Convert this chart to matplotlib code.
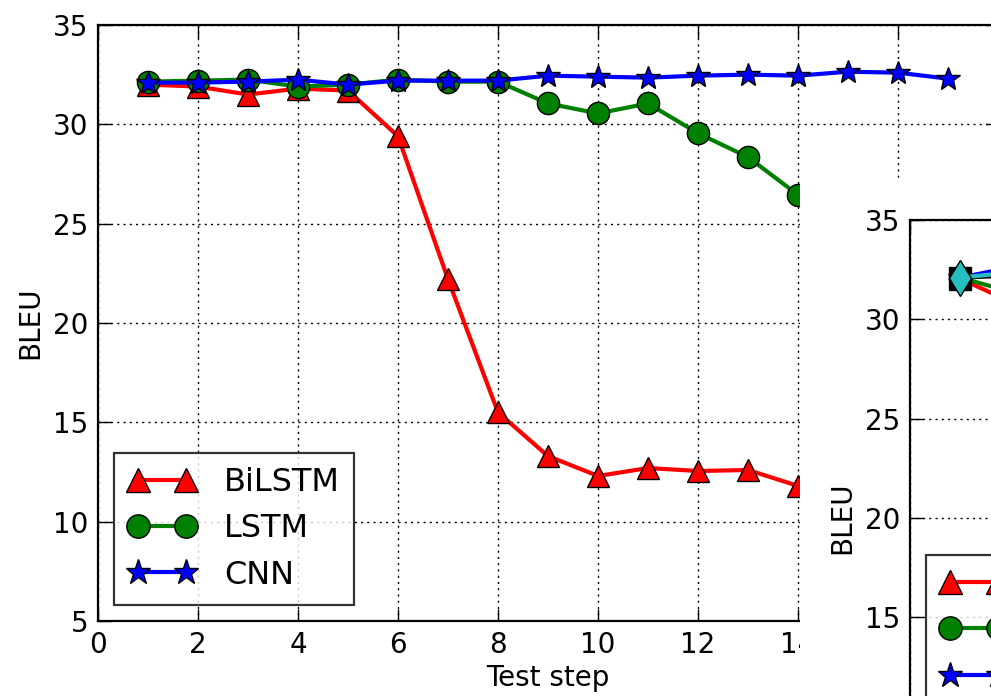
import numpy as np
import matplotlib
matplotlib.use("Agg")
from matplotlib import pyplot as plt
from matplotlib.patches import Rectangle

# main panel data
steps = list(range(1, 15))
bilstm = [32.0, 31.9, 31.5, 31.8, 31.7, 29.4, 22.2, 15.5, 13.3, 12.3, 12.7, 12.55, 12.6, 11.8]
lstm = [32.15, 32.2, 32.25, 31.9, 32.0, 32.25, 32.15, 32.15, 31.05, 30.55, 31.05, 29.55, 28.35, 26.45]
cnn_steps = list(range(1, 18))
cnn = [32.1, 32.1, 32.15, 32.25, 32.0, 32.2, 32.2, 32.2, 32.45, 32.4, 32.35,
       32.45, 32.5, 32.45, 32.65, 32.6, 32.3]

# second panel (only the first steps are visible)
steps2 = [1, 2]
bilstm2 = [32.05, 30.9]
lstm2 = [32.1, 31.4]
cnn2 = [32.1, 32.6]
model4 = [32.1, 32.2]
model5 = [32.1, 32.35]
labels2 = ['BiLSTM', 'LSTM', 'CNN', 'GRU', 'Transformer']

yticks = [5, 10, 15, 20, 25, 30, 35]
xticks = [0, 2, 4, 6, 8, 10, 12, 14, 16, 18]

W, H = 991, 696
TICK_FS = 20
LEG_FS = 23
LW = 3.0
MS = 16
dots = (0, (1.5, 3))


def style_axes(ax):
    ax.set_xlim(0, 18)
    ax.set_ylim(5, 35)
    ax.set_xticks(xticks)
    ax.set_yticks(yticks)
    ax.tick_params(direction='in', length=9, width=1, labelsize=TICK_FS, pad=7,
                   top=True, right=True)
    for s in ax.spines.values():
        s.set_linewidth(1.6)
    ax.grid(True, color='k', linestyle=dots, linewidth=1)
    ax.set_ylabel('BLEU', fontsize=TICK_FS, labelpad=6)


def add_legend(ax):
    leg = ax.legend(loc='lower left', numpoints=2, fontsize=LEG_FS, fancybox=False,
                    borderaxespad=0.5, handlelength=2.1, handletextpad=0.9,
                    labelspacing=0.48, borderpad=0.45, markerscale=1.05)
    leg.get_frame().set_edgecolor('k')
    leg.get_frame().set_linewidth(1.6)


fig = plt.figure(figsize=(W / 100, H / 100), dpi=100)
fig.patch.set_facecolor('white')

# main axes
ax = fig.add_axes([98 / W, 75 / H, 900 / W, 596 / H])
ax.plot(steps, bilstm, '-^', color='r', lw=LW, ms=MS, mec='k', mew=1, label='BiLSTM')
ax.plot(steps, lstm, '-o', color=(0, 0.5, 0), lw=LW, ms=MS, mec='k', mew=1, label='LSTM')
ax.plot(cnn_steps, cnn, '-*', color='b', lw=LW, ms=MS + 2, mec='k', mew=1, label='CNN')
style_axes(ax)
ax.set_xlabel('Test step', fontsize=TICK_FS, labelpad=4)
add_legend(ax)

# white block where the second panel was pasted over
fig.add_artist(Rectangle((800 / W, 0), 191 / W, (H - 181) / H, transform=fig.transFigure,
                         facecolor='white', edgecolor='none', zorder=1))

# second panel, mostly outside the picture
ax2 = fig.add_axes([910 / W, -120 / H, 900 / W, 596 / H])
ax2.set_zorder(2)
ax2.plot(steps2, bilstm2, '-^', color='r', lw=LW, ms=MS, mec='k', mew=1, label=labels2[0])
ax2.plot(steps2, lstm2, '-o', color=(0, 0.5, 0), lw=LW, ms=MS, mec='k', mew=1, label=labels2[1])
ax2.plot(steps2, cnn2, '-*', color='b', lw=LW, ms=MS + 2, mec='k', mew=1, label=labels2[2])
ax2.plot(steps2, model4, '-s', color='k', lw=LW, ms=MS, mec='k', mew=1, label=labels2[3])
ax2.plot(steps2, model5, '-d', color=(0.15, 0.75, 0.75), lw=LW, ms=MS + 2, mec='k', mew=1,
         label=labels2[4])
style_axes(ax2)
add_legend(ax2)

plt.savefig('out.png', dpi=100)
plt.close()
